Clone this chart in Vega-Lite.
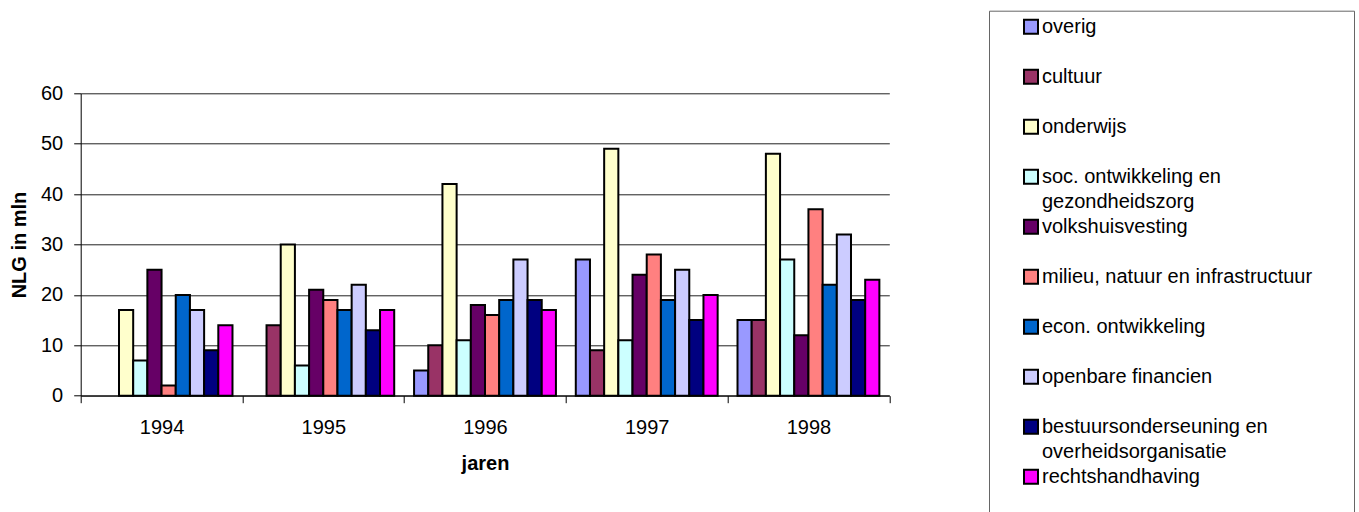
{
  "$schema": "https://vega.github.io/schema/vega-lite/v6.json",
  "width": 808.6,
  "height": 302.4,
  "autosize": "none",
  "padding": {"left": 80.7, "top": 93.3, "right": 469.7, "bottom": 116.3},
  "background": "white",
  "config": {
    "view": {"stroke": null},
    "font": "Liberation Sans",
    "style": {"guide-label": {"lineHeight": 25.5}}
  },
  "data": {
    "values": [
      {"jaar": "1994", "sector": "onderwijs", "waarde": 17},
      {"jaar": "1994", "sector": "soc. ontwikkeling en gezondheidszorg", "waarde": 7},
      {"jaar": "1994", "sector": "volkshuisvesting", "waarde": 25},
      {"jaar": "1994", "sector": "milieu, natuur en infrastructuur", "waarde": 2},
      {"jaar": "1994", "sector": "econ. ontwikkeling", "waarde": 20},
      {"jaar": "1994", "sector": "openbare financien", "waarde": 17},
      {"jaar": "1994", "sector": "bestuursonderseuning en overheidsorganisatie", "waarde": 9},
      {"jaar": "1994", "sector": "rechtshandhaving", "waarde": 14},
      {"jaar": "1995", "sector": "cultuur", "waarde": 14},
      {"jaar": "1995", "sector": "onderwijs", "waarde": 30},
      {"jaar": "1995", "sector": "soc. ontwikkeling en gezondheidszorg", "waarde": 6},
      {"jaar": "1995", "sector": "volkshuisvesting", "waarde": 21},
      {"jaar": "1995", "sector": "milieu, natuur en infrastructuur", "waarde": 19},
      {"jaar": "1995", "sector": "econ. ontwikkeling", "waarde": 17},
      {"jaar": "1995", "sector": "openbare financien", "waarde": 22},
      {"jaar": "1995", "sector": "bestuursonderseuning en overheidsorganisatie", "waarde": 13},
      {"jaar": "1995", "sector": "rechtshandhaving", "waarde": 17},
      {"jaar": "1996", "sector": "overig", "waarde": 5},
      {"jaar": "1996", "sector": "cultuur", "waarde": 10},
      {"jaar": "1996", "sector": "onderwijs", "waarde": 42},
      {"jaar": "1996", "sector": "soc. ontwikkeling en gezondheidszorg", "waarde": 11},
      {"jaar": "1996", "sector": "volkshuisvesting", "waarde": 18},
      {"jaar": "1996", "sector": "milieu, natuur en infrastructuur", "waarde": 16},
      {"jaar": "1996", "sector": "econ. ontwikkeling", "waarde": 19},
      {"jaar": "1996", "sector": "openbare financien", "waarde": 27},
      {"jaar": "1996", "sector": "bestuursonderseuning en overheidsorganisatie", "waarde": 19},
      {"jaar": "1996", "sector": "rechtshandhaving", "waarde": 17},
      {"jaar": "1997", "sector": "overig", "waarde": 27},
      {"jaar": "1997", "sector": "cultuur", "waarde": 9},
      {"jaar": "1997", "sector": "onderwijs", "waarde": 49},
      {"jaar": "1997", "sector": "soc. ontwikkeling en gezondheidszorg", "waarde": 11},
      {"jaar": "1997", "sector": "volkshuisvesting", "waarde": 24},
      {"jaar": "1997", "sector": "milieu, natuur en infrastructuur", "waarde": 28},
      {"jaar": "1997", "sector": "econ. ontwikkeling", "waarde": 19},
      {"jaar": "1997", "sector": "openbare financien", "waarde": 25},
      {"jaar": "1997", "sector": "bestuursonderseuning en overheidsorganisatie", "waarde": 15},
      {"jaar": "1997", "sector": "rechtshandhaving", "waarde": 20},
      {"jaar": "1998", "sector": "overig", "waarde": 15},
      {"jaar": "1998", "sector": "cultuur", "waarde": 15},
      {"jaar": "1998", "sector": "onderwijs", "waarde": 48},
      {"jaar": "1998", "sector": "soc. ontwikkeling en gezondheidszorg", "waarde": 27},
      {"jaar": "1998", "sector": "volkshuisvesting", "waarde": 12},
      {"jaar": "1998", "sector": "milieu, natuur en infrastructuur", "waarde": 37},
      {"jaar": "1998", "sector": "econ. ontwikkeling", "waarde": 22},
      {"jaar": "1998", "sector": "openbare financien", "waarde": 32},
      {"jaar": "1998", "sector": "bestuursonderseuning en overheidsorganisatie", "waarde": 19},
      {"jaar": "1998", "sector": "rechtshandhaving", "waarde": 23}
    ]
  },
  "mark": {"type": "bar", "stroke": "black", "strokeWidth": 2},
  "encoding": {
    "x": {
      "field": "jaar",
      "type": "nominal",
      "scale": {"paddingInner": 0, "paddingOuter": 0},
      "axis": {
        "title": "jaren",
        "labelAngle": 0,
        "tickBand": "extent",
        "tickSize": 7,
        "tickColor": "black",
        "domainColor": "black",
        "labelFontSize": 20,
        "labelColor": "black",
        "labelPadding": 15,
        "titleFontSize": 20,
        "titleFontWeight": "bold",
        "titleColor": "black",
        "titlePadding": 16
      }
    },
    "xOffset": {
      "field": "sector",
      "type": "nominal",
      "scale": {
        "domain": ["overig", "cultuur", "onderwijs", "soc. ontwikkeling en gezondheidszorg", "volkshuisvesting", "milieu, natuur en infrastructuur", "econ. ontwikkeling", "openbare financien", "bestuursonderseuning en overheidsorganisatie", "rechtshandhaving"],
        "paddingInner": 0,
        "paddingOuter": 0.7
      }
    },
    "y": {
      "field": "waarde",
      "type": "quantitative",
      "scale": {"domain": [0, 60]},
      "axis": {
        "title": "NLG in mln",
        "values": [0, 10, 20, 30, 40, 50, 60],
        "grid": true,
        "gridColor": "#222222",
        "gridOpacity": 1,
        "tickSize": 7,
        "tickColor": "black",
        "domainColor": "black",
        "labelFontSize": 20,
        "labelColor": "black",
        "labelPadding": 11,
        "titleFontSize": 20,
        "titleFontWeight": "bold",
        "titleColor": "black",
        "titlePadding": 11
      }
    },
    "color": {
      "field": "sector",
      "type": "nominal",
      "scale": {
        "domain": ["overig", "cultuur", "onderwijs", "soc. ontwikkeling en gezondheidszorg", "volkshuisvesting", "milieu, natuur en infrastructuur", "econ. ontwikkeling", "openbare financien", "bestuursonderseuning en overheidsorganisatie", "rechtshandhaving"],
        "range": ["#9999FF", "#993366", "#FFFFCC", "#CCFFFF", "#660066", "#FF8080", "#0066CC", "#CCCCFF", "#000080", "#FF00FF"]
      },
      "legend": {
        "orient": "none",
        "direction": "vertical",
        "legendX": 908.3,
        "legendY": -82.6,
        "title": " ",
        "titleOrient": "right",
        "titleFontSize": 20,
        "titlePadding": 36,
        "symbolType": "square",
        "symbolSize": 196,
        "symbolStrokeColor": "black",
        "symbolStrokeWidth": 2,
        "symbolOffset": 26,
        "labelFontSize": 20,
        "labelColor": "black",
        "labelLimit": 500,
        "labelOffset": 1,
        "labelBaseline": "middle",
        "labelExpr": "datum.label == 'soc. ontwikkeling en gezondheidszorg' ? ['soc. ontwikkeling en', 'gezondheidszorg'] : datum.label == 'bestuursonderseuning en overheidsorganisatie' ? ['bestuursonderseuning en', 'overheidsorganisatie'] : [datum.label, '']",
        "rowPadding": 3,
        "padding": 6,
        "strokeColor": "#666666",
        "fillColor": "white"
      }
    }
  }
}
